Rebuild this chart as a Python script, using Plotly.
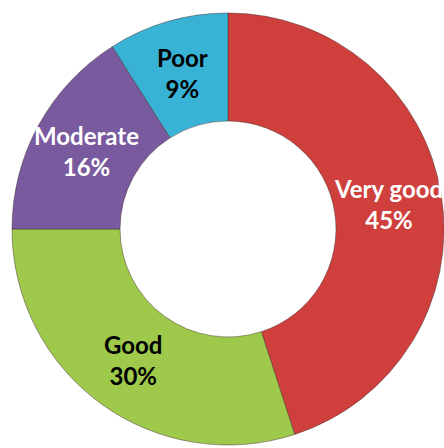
import numpy as np
import plotly.graph_objects as go

labels = ["Very good", "Good", "Moderate", "Poor"]
values = [45, 30, 16, 9]
colors = ["#cf403d", "#9ec94b", "#7a5a9e", "#38b3d5"]
text_colors = ["white", "black", "white", "black"]

W, H = 444, 448
cx, cy, R = 228, 229, 216  # pixel centre (from top-left) and outer radius
hole = 0.5

fig = go.Figure(go.Pie(
    labels=labels, values=values, hole=hole, sort=False,
    direction="clockwise", rotation=0,
    marker=dict(colors=colors, line=dict(color="rgba(60,40,40,0.45)", width=1)),
    textinfo="none", hoverinfo="label+percent", showlegend=False,
    domain=dict(x=[(cx - R) / W, min(1, (cx + R) / W)],
                y=[(H - cy - R) / H, (H - cy + R) / H]),
))

vals = np.array(values, dtype=float)
cum = np.cumsum(vals) / vals.sum()
mids = (cum - vals / vals.sum() / 2) * 2 * np.pi
rr = R * (1 + hole) / 2
for lab, v, a, tc in zip(labels, values, mids, text_colors):
    px = cx + rr * np.sin(a)
    py = cy - rr * np.cos(a)
    fig.add_annotation(
        x=px / W, y=1 - py / H, xref="paper", yref="paper",
        text=f"<b>{lab}<br>{v}%</b>", showarrow=False,
        font=dict(family="Lato", size=24, color=tc),
        align="center", xanchor="center", yanchor="middle",
    )

fig.update_layout(
    width=W, height=H, margin=dict(l=0, r=0, t=0, b=0),
    paper_bgcolor="white", plot_bgcolor="white",
)
fig.write_html("out.html")
